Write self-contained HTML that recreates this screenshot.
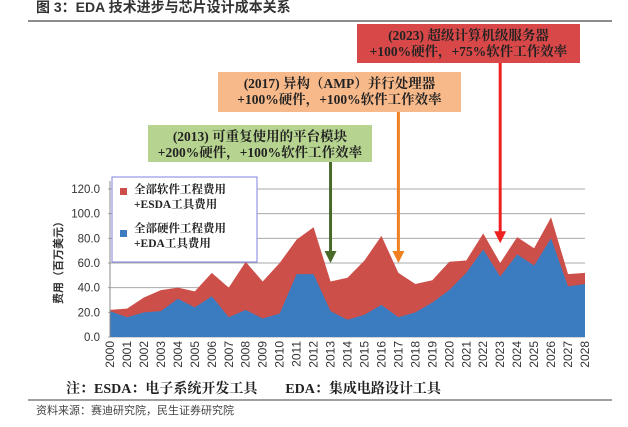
<!DOCTYPE html>
<html><head><meta charset="utf-8"><style>
body{margin:0;width:628px;height:427px;background:#fff;overflow:hidden;font-family:"Liberation Serif","Noto Serif CJK SC","Noto Sans CJK SC",serif;}
svg{display:block}
</style></head><body>
<svg id="c" width="628" height="427" xmlns="http://www.w3.org/2000/svg">
<text x="36" y="12" font-family="Liberation Sans,Noto Sans CJK SC,sans-serif" font-weight="bold" font-size="14" fill="#333">图 3：EDA 技术进步与芯片设计成本关系</text>
<line x1="28" y1="21" x2="612" y2="21" stroke="#666" stroke-width="1.5"/>
<g id="grid"></g>
<g id="areas"></g>
<g id="axes"></g>
<text transform="translate(62,260) rotate(-90)" text-anchor="middle" font-size="11" font-family="Liberation Sans,Noto Sans CJK SC,sans-serif" font-weight="bold" fill="#333">费用（百万美元）</text>
<rect x="112" y="177" width="145" height="85" fill="#fff" stroke="#8080e0"/>
<rect x="120" y="188" width="7" height="7" fill="#cd4f4a"/>
<text x="134" y="193" font-size="11.5" font-weight="bold" fill="#222"><tspan>全部软件工程费用</tspan><tspan x="134" dy="15">+ESDA工具费用</tspan></text>
<rect x="120" y="230" width="7" height="7" fill="#3b7bbf"/>
<text x="134" y="232" font-size="11.5" font-weight="bold" fill="#222"><tspan>全部硬件工程费用</tspan><tspan x="134" dy="15">+EDA工具费用</tspan></text>
<g id="ann"></g>
<text x="66" y="393" font-size="14" font-weight="bold" fill="#222">注：ESDA：电子系统开发工具　　EDA：集成电路设计工具</text>
<line x1="28" y1="400" x2="612" y2="400" stroke="#666" stroke-width="1.2"/>
<text x="36" y="414" font-size="11" font-family="Liberation Sans,Noto Sans CJK SC,sans-serif" fill="#444">资料来源：赛迪研究院，民生证券研究院</text>
</svg>
<script>
const years=[2000,2001,2002,2003,2004,2005,2006,2007,2008,2009,2010,2011,2012,2013,2014,2015,2016,2017,2018,2019,2020,2021,2022,2023,2024,2025,2026,2027,2028];
const totalCost=[22,23,32,38,40,37,52,40,61,45,60,79,89,45,48,62,82,52,43,46,61,62,84,60,81,72,97,51,52];
const hardwareCost=[21,16,20,21,31,24,33,16,22,15,19,51,51,21,14,18,26,16,20,28,38,52,71,49,67,58,80,41,43];
const yTicks=[0,20,40,60,80,100,120];
const NS="http://www.w3.org/2000/svg";
const X0=110,X1=585,Y0=337,Y1=189;
const x=i=>X0+(X1-X0)*i/(years.length-1);
const y=v=>Y0-(Y0-Y1)*v/120;
function mk(tag,attrs,parent){const e=document.createElementNS(NS,tag);for(const k in attrs)e.setAttribute(k,attrs[k]);document.getElementById(parent).appendChild(e);return e;}
yTicks.forEach(t=>{
  const g=mk('line',{x1:X0-2,x2:X1,y1:y(t),y2:y(t),stroke:'#aaa','stroke-width':1},'grid');
  
  
  const l=mk('text',{x:X0-10,y:y(t)+4,'text-anchor':'end','font-size':11.5,'font-family':'Liberation Sans,sans-serif',fill:'#333'},'axes');
  l.textContent=t.toFixed(1);
  
  
});
function areaPath(vals){let d='M'+x(0)+','+y(0);vals.forEach((v,i)=>d+=' L'+x(i)+','+y(v));d+=' L'+x(vals.length-1)+','+y(0)+' Z';return d;}
const a1=mk('path',{d:areaPath(totalCost),fill:'#cd4f4a'},'areas');


const a2=mk('path',{d:areaPath(hardwareCost),fill:'#3b7bbf'},'areas');


const ax=mk('line',{x1:X0,x2:X0,y1:Y1-8,y2:Y0,stroke:'#888'},'axes');


years.forEach((yr,i)=>{
  const t=mk('text',{transform:`translate(${x(i)+4},${Y0+4}) rotate(-90)`,'text-anchor':'end','font-size':12,'font-family':'Liberation Sans,sans-serif',fill:'#333'},'axes');
  t.textContent=yr;
  
  
});
const anns=[
 {yr:2013,bx:148,by:125,bw:224,bh:37,fill:'#b6d48f',col:'#4a6a2a',l1:'(2013) 可重复使用的平台模块',l2:'+200%硬件，+100%软件工作效率',tip:60,name:'annotation-2013'},
 {yr:2017,bx:218,by:72,bw:243,bh:40,fill:'#f8b98a',col:'#f08020',l1:'(2017) 异构（AMP）并行处理器',l2:'+100%硬件，+100%软件工作效率',tip:60,name:'annotation-2017'},
 {yr:2023,bx:357,by:24,bw:223,bh:39,fill:'#d84848',col:'#ee2020',l1:'(2023) 超级计算机级服务器',l2:'+100%硬件，+75%软件工作效率',tip:76,name:'annotation-2023'}
];
anns.forEach(a=>{
  const i=years.indexOf(a.yr),ax_=x(i),ty=y(a.tip);
  const ln=mk('line',{x1:ax_,x2:ax_,y1:a.by+a.bh,y2:ty-10,stroke:a.col,'stroke-width':3},'ann');
  
  
  const hd=mk('polygon',{points:`${ax_-6},${ty-12} ${ax_+6},${ty-12} ${ax_},${ty}`,fill:a.col},'ann');
  
  
  const r=mk('rect',{x:a.bx,y:a.by,width:a.bw,height:a.bh,fill:a.fill},'ann');
  
  
  const t=mk('text',{x:a.bx+a.bw/2,y:a.by+16,'text-anchor':'middle','font-size':13.5,'font-weight':'bold',fill:'#222'},'ann');
  t.innerHTML=`<tspan>${a.l1}</tspan><tspan x="${a.bx+a.bw/2}" dy="16">${a.l2}</tspan>`;
  
  
});
</script>
</body></html>
